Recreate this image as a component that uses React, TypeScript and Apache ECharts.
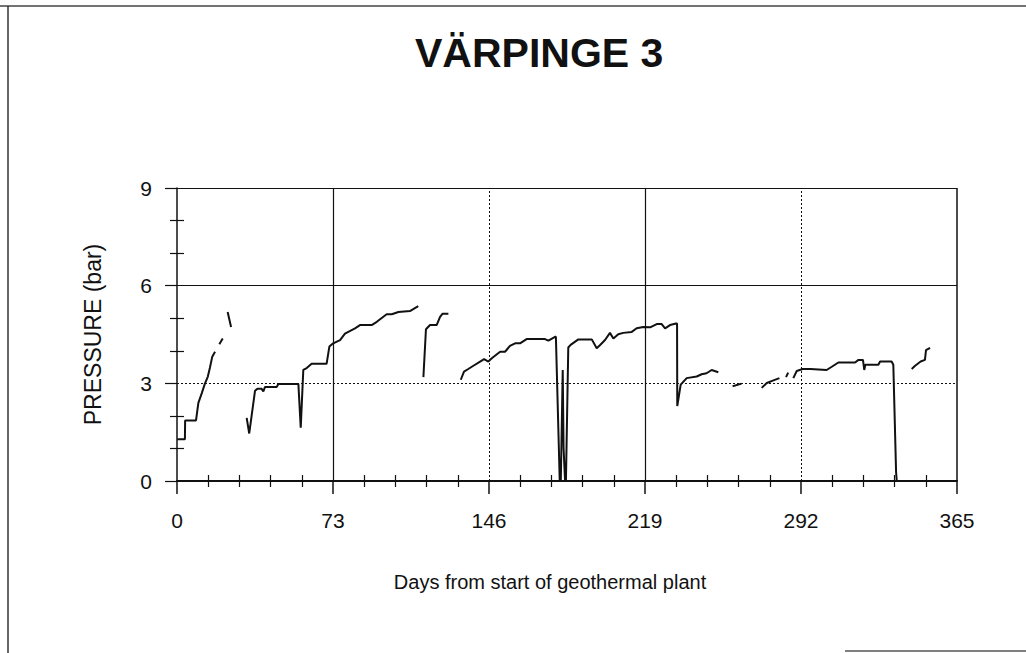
import React, { useEffect, useRef } from "react";
import * as echarts from "echarts";

const titleText = "VÄRPINGE 3";
const xAxisName = "Days from start of geothermal plant";
const yAxisName = "PRESSURE (bar)";

// x axis ticks (days) and y axis ticks (bar)
const xTicks = [0, 73, 146, 219, 292, 365];
const yTicks = [0, 3, 6, 9];

// null separates unconnected segments
const days: (number | null)[] = [
  0.1, 3.7, 3.8, 8.9, 10, 11.6, 13.1, 14.4, 15.4, 16.5, 17.8, null,
  19.8, 21.4, null,
  23.7, 25.3, null,
  32.6, 33.8, 36.5, 37.6, 39.6, 40.4, 41.2, 46.7, 47.4, 56.8, 57.9, 59.1, 60.7, 63, 70, 71.3, 73.1, 76.3, 78.6, 83.3, 85.6, 91.1, 93.5, 98.1, 100.5, 103.6, 109, 112.9, null,
  115.3, 116.5, 118.4, 121.5, 123.1, 124.3, 127, null,
  132.8, 134.3, 136.3, 138.7, 142.6, 143.7, 145.7, 147.3, 151.2, 153.5, 155.8, 158.2, 160.5, 163.6, 172.2, 173.8, 176.9, 177.3, 179.1, 179.6, 180.5, 180.9, 181.6, 182, 183.1, 184.2, 187.8, 194.1, 196.4, 198, 200.3, 202.6, 204.2, 206.5, 208.8, 212.8, 215.1, 218.2, 221.4, 224.5, 226.8, 228.4, 230.7, 233.5, 234, 234.1, 235.7, 238.5, 243.2, 245.5, 247.8, 250.2, 253.3, null,
  260, 264.2, null,
  273.6, 276, 279.1, 281.9, null,
  285, 286, null,
  288.4, 290, 292.8, 296.4, 304, 306.4, 309.5, 317.3, 318.9, 321, 321.6, 322.1, 328.2, 329, 334.4, 335.2, 336.5, 336.8, null,
  343.8, 345.4, 348, 350, 350.5, 352.4,
];

const pressure: (number | null)[] = [
  1.28, 1.28, 1.86, 1.86, 2.4, 2.7, 3.0, 3.2, 3.48, 3.82, 3.97, null,
  4.2, 4.38, null,
  5.19, 4.73, null,
  1.94, 1.46, 2.77, 2.83, 2.83, 2.75, 2.89, 2.89, 2.98, 2.98, 1.64, 3.41, 3.47, 3.6, 3.6, 4.13, 4.23, 4.33, 4.53, 4.69, 4.79, 4.79, 4.89, 5.12, 5.12, 5.19, 5.22, 5.37, null,
  3.19, 4.66, 4.79, 4.79, 5.04, 5.14, 5.14, null,
  3.11, 3.36, 3.44, 3.54, 3.7, 3.74, 3.67, 3.77, 3.97, 3.97, 4.15, 4.23, 4.23, 4.36, 4.36, 4.31, 4.43, 4.43, 0, 0, 3.41, 1.0, 0, 0, 4.1, 4.18, 4.35, 4.35, 4.08, 4.18, 4.33, 4.55, 4.38, 4.51, 4.55, 4.58, 4.69, 4.73, 4.72, 4.82, 4.82, 4.69, 4.79, 4.84, 4.84, 2.3, 2.96, 3.16, 3.21, 3.28, 3.31, 3.41, 3.34, null,
  2.91, 2.99, null,
  2.86, 3.01, 3.09, 3.16, null,
  3.19, 3.33, null,
  3.16, 3.38, 3.44, 3.44, 3.41, 3.51, 3.64, 3.64, 3.72, 3.72, 3.41, 3.57, 3.57, 3.67, 3.67, 3.57, 0.27, 0, null,
  3.44, 3.54, 3.67, 3.72, 4.02, 4.09,
];

const FONT = "'Liberation Sans', Arial, Helvetica, sans-serif";
const INK = "#111";

export default function App() {
  const ref = useRef<HTMLDivElement>(null);

  useEffect(() => {
    if (!ref.current) return;
    const chart = echarts.init(ref.current, undefined, { renderer: "svg" });

    const seriesData = days.map((d, i) =>
      d === null || pressure[i] === null ? "-" : [d, pressure[i]]
    );

    const xMin = xTicks[0];
    const xMax = xTicks[xTicks.length - 1];
    const xInt = xTicks[1] - xTicks[0];
    const yMin = yTicks[0];
    const yMax = yTicks[yTicks.length - 1];
    const yInt = yTicks[1] - yTicks[0];

    const gridLines: any[] = [
      { yAxis: 9, lineStyle: { type: "solid", width: 1.2 } },
      { yAxis: 6, lineStyle: { type: "solid", width: 1.2 } },
      { yAxis: 3, lineStyle: { type: [2, 2], width: 1.2 } },
      { xAxis: 73, lineStyle: { type: "solid", width: 1.2 } },
      { xAxis: 146, lineStyle: { type: [2, 2], width: 1 } },
      { xAxis: 219, lineStyle: { type: "solid", width: 1.2 } },
      { xAxis: 292, lineStyle: { type: [2, 2], width: 1 } },
      { xAxis: 365, lineStyle: { type: "solid", width: 1.5 } },
    ];

    const baseX = {
      type: "value",
      min: xMin,
      max: xMax,
      interval: xInt,
      position: "bottom",
      splitLine: { show: false },
    };
    const baseY = {
      type: "value",
      min: yMin,
      max: yMax,
      interval: yInt,
      position: "left",
      splitLine: { show: false },
    };

    chart.setOption({
      animation: false,
      backgroundColor: "#fff",
      title: {
        text: titleText,
        left: 410,
        top: 27,
        textStyle: { fontFamily: FONT, fontSize: 41, fontWeight: "bold", color: INK },
      },
      grid: { left: 177, right: 69, top: 188, bottom: 172, containLabel: false },
      xAxis: [
        {
          ...baseX,
          name: xAxisName,
          nameLocation: "middle",
          nameGap: 91,
          nameTextStyle: {
            fontFamily: FONT,
            fontSize: 20,
            color: INK,
            padding: [0, 34, 0, 0],
          },
          axisLine: { show: true, lineStyle: { color: INK, width: 2 } },
          axisTick: { show: true, length: 13, lineStyle: { color: INK, width: 1.5 } },
          minorTick: { show: false },
          axisLabel: { fontFamily: FONT, fontSize: 21, color: INK, margin: 29 },
        },
        {
          ...baseX,
          offset: -6,
          axisLine: { show: false },
          axisTick: { show: false },
          minorTick: { show: true, splitNumber: 5, length: 12, lineStyle: { color: INK, width: 1.2 } },
          axisLabel: { show: false },
        },
      ],
      yAxis: [
        {
          ...baseY,
          name: yAxisName,
          nameLocation: "middle",
          nameGap: 73,
          nameTextStyle: { fontFamily: FONT, fontSize: 23, color: INK },
          axisLine: { show: true, lineStyle: { color: INK, width: 1.5 } },
          axisTick: { show: true, length: 12, lineStyle: { color: INK, width: 1.2 } },
          minorTick: { show: false },
          axisLabel: { fontFamily: FONT, fontSize: 21, color: INK, margin: 25 },
        },
        {
          ...baseY,
          offset: -7,
          axisLine: { show: false },
          axisTick: { show: false },
          minorTick: { show: true, splitNumber: 3, length: 14, lineStyle: { color: INK, width: 1.2 } },
          axisLabel: { show: false },
        },
      ],
      graphic: [
        { type: "line", shape: { x1: 0, y1: 6, x2: 1026, y2: 6 }, style: { stroke: "#444", lineWidth: 1.5 } },
        { type: "line", shape: { x1: 8, y1: 6, x2: 8, y2: 653 }, style: { stroke: "#333", lineWidth: 1.5 } },
        { type: "line", shape: { x1: 845, y1: 651, x2: 1026, y2: 651 }, style: { stroke: "#555", lineWidth: 1.5 } },
      ],
      series: [
        {
          type: "line",
          xAxisIndex: 0,
          yAxisIndex: 0,
          data: seriesData,
          showSymbol: false,
          connectNulls: false,
          lineStyle: { color: INK, width: 2 },
          silent: true,
          markLine: {
            silent: true,
            symbol: "none",
            label: { show: false },
            lineStyle: { color: INK },
            data: gridLines,
          },
        },
        {
          type: "line",
          xAxisIndex: 1,
          yAxisIndex: 1,
          data: [],
          showSymbol: false,
          silent: true,
        },
      ],
    });

    return () => chart.dispose();
  }, []);

  return (
    <div
      ref={ref}
      style={{ position: "absolute", left: 0, top: 0, width: 1026, height: 653 }}
    />
  );
}
